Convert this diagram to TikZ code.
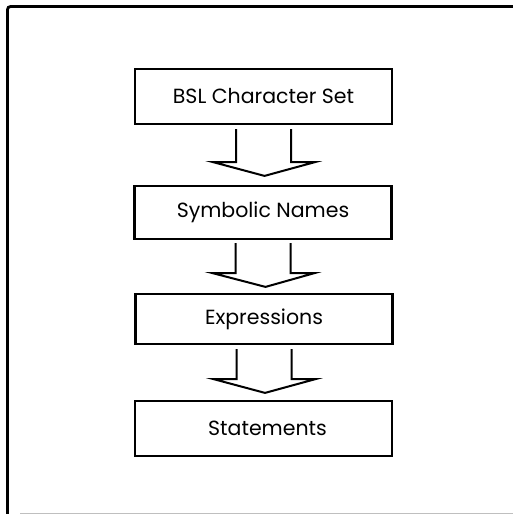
\documentclass[tikz,border=0pt]{standalone}
\usepackage{fontspec}
\setmainfont{Poppins}
\usetikzlibrary{calc}
\tikzset{
  stagebox/.style={draw, line width=2.2pt, minimum width=257pt, inner sep=0pt, font=\fontsize{20.5pt}{22pt}\selectfont},
  flowarrow/.style={draw, line width=2pt, line join=miter},
}
\begin{document}
\begin{tikzpicture}[x=1pt,y=-1pt]
\useasboundingbox (0,0) rectangle (513,514);
\fill[white] (0,0) rectangle (513,514);
% frame
\draw[line width=2.8pt, rounded corners=3pt] (7.5,514) -- (7.5,6.5) -- (513,6.5);
\draw[line width=0.8pt, black!25] (20,513) -- (513,513);
% boxes
\node[stagebox, minimum height=55pt] (b1) at (263.5,96.5) {BSL Character Set};
\node[stagebox, minimum height=53pt] (b2) at (263,212.5) {Symbolic Names\hspace{12pt}};
\node[stagebox, minimum height=50pt] (b3) at (264,319) {Expressions};
\node[stagebox, minimum height=55pt] (b4) at (263.5,428.5) {\hspace{8pt}Statements};
% block arrows
\foreach \a/\b/\s/\w/\t in {b1/b2/4/37/9, b2/b3/3/33/6, b3/b4/4/34/7}{
  \draw[flowarrow] ($(\a.south)+(-27.5,\s)$) -- ($(\a.south)+(-27.5,\w)$)
    -- ($(\a.south)+(-50.5,\w)$) -- ($(\b.north)+(1.5,-\t)$)
    -- ($(\a.south)+(51.5,\w)$) -- ($(\a.south)+(27.5,\w)$)
    -- ($(\a.south)+(27.5,\s)$);
}
\end{tikzpicture}
\end{document}
